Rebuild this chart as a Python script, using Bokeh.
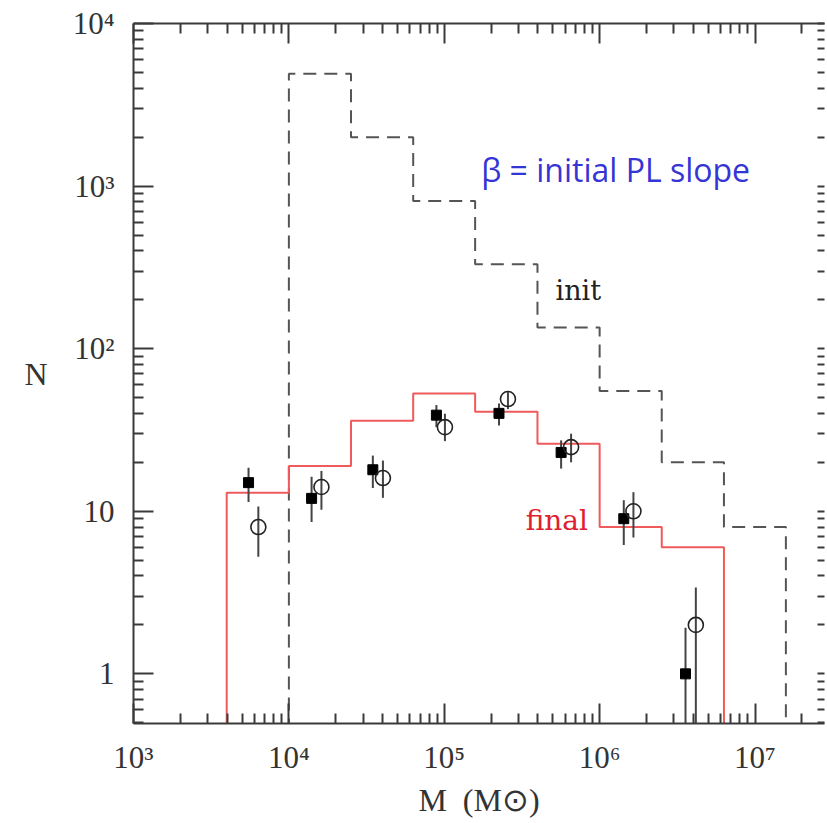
from bokeh.plotting import figure
from bokeh.models import (LogAxis, FixedTicker, Range1d, Label, ColumnDataSource,
                          CustomJSTickFormatter)
from bokeh.embed import file_html
from bokeh.resources import INLINE

# ---------------- data ----------------
# initial (power-law) cluster mass function: bin edges and counts
init_edges = [1.0e4, 2.51e4, 6.31e4, 1.58e5, 3.98e5, 1.0e6, 2.51e6, 6.31e6, 1.58e7]
init_counts = [4900, 2000, 810, 330, 135, 55, 20, 8]

# final (evolved) mass function
final_edges = [3.98e3, 1.0e4, 2.51e4, 6.31e4, 1.58e5, 3.98e5, 1.0e6, 2.51e6, 6.31e6]
final_counts = [13, 19, 36, 53, 41, 26, 8, 6]

# observed sample 1 (filled squares)
sq_mass = [5.5e3, 1.4e4, 3.47e4, 8.9e4, 2.25e5, 5.65e5, 1.43e6, 3.57e6]
sq_n = [15, 12, 18, 39, 40, 23, 9, 1.0]
sq_lo = [11.4, 8.6, 13.9, 32.9, 33.7, 18.3, 6.2, 0.1]
sq_hi = [18.5, 16.3, 22.0, 45.0, 46.0, 27.3, 11.7, 1.92]

# observed sample 2 (open circles)
ci_mass = [6.36e3, 1.62e4, 4.03e4, 1.01e5, 2.57e5, 6.55e5, 1.65e6, 4.16e6]
ci_n = [8.0, 14.1, 16.0, 32.9, 49.0, 24.8, 10.0, 2.0]
ci_lo = [5.25, 10.2, 12.1, 27.0, 42.5, 20.0, 6.9, 0.1]
ci_hi = [10.7, 17.7, 20.5, 39.8, 54.0, 30.0, 13.1, 3.4]

# axis ticks and labels
x_ticks = [1e3, 1e4, 1e5, 1e6, 1e7]
x_tick_labels = ["10³", "10⁴", "10⁵", "10⁶", "10⁷"]
y_ticks = [1, 10, 100, 1000, 10000]
y_tick_labels = ["1", "10", "10²", "10³", "10⁴"]

x_label = "M\u00a0\u00a0(M⊙)"
y_label = "N"
annot_text = "β = initial PL slope"
init_text = "init"
final_text = "final"

# ---------------- helpers ----------------
FLOOR = 0.1  # below the visible range so histogram sides run off the bottom


def outline(edges, counts):
    xs = [edges[0]]
    ys = [FLOOR]
    for i, c in enumerate(counts):
        xs += [edges[i], edges[i + 1]]
        ys += [c, c]
    xs.append(edges[-1])
    ys.append(FLOOR)
    return xs, ys


minor = [m * 10 ** k for k in range(-1, 8) for m in range(2, 10)]
xticker = FixedTicker(ticks=x_ticks, minor_ticks=minor)
yticker = FixedTicker(ticks=y_ticks, minor_ticks=minor)

SERIF = "Liberation Serif"
AX_COLOR = "#3a3a3a"

p = figure(
    width=827, height=823,
    x_axis_type="log", y_axis_type="log",
    x_range=Range1d(1e3, 2.8e7), y_range=Range1d(0.495, 1e4),
    output_backend="svg", toolbar_location=None,
    min_border_left=133, min_border_right=0,
    min_border_top=23, min_border_bottom=100,
)
p.outline_line_color = None
p.xgrid.visible = False
p.ygrid.visible = False
p.background_fill_color = "white"
p.border_fill_color = "white"


def style_axis(ax, tick_in=20, minor_in=10):
    ax.axis_line_color = AX_COLOR
    ax.axis_line_width = 2
    ax.major_tick_line_color = AX_COLOR
    ax.minor_tick_line_color = AX_COLOR
    ax.major_tick_line_width = 2
    ax.minor_tick_line_width = 2
    ax.major_tick_in = tick_in
    ax.major_tick_out = 0
    ax.minor_tick_in = minor_in
    ax.minor_tick_out = 0
    ax.major_label_text_font = SERIF
    ax.major_label_text_font_size = "31px"
    ax.major_label_text_color = "#333333"
    ax.axis_label_text_font = SERIF
    ax.axis_label_text_font_size = "32px"
    ax.axis_label_text_font_style = "normal"
    ax.axis_label_text_color = "#333333"


xa = p.xaxis[0]
xa.ticker = xticker
xa.major_label_overrides = dict(zip(x_ticks, x_tick_labels))
xa.axis_label = x_label
style_axis(xa)
xa.major_label_standoff = 16
xa.axis_label_standoff = 4

ya = p.yaxis[0]
ya.ticker = yticker
ya.major_label_overrides = dict(zip(y_ticks, y_tick_labels))
ya.axis_label = y_label
ya.axis_label_orientation = "horizontal"
style_axis(ya)
ya.major_label_standoff = 19
ya.axis_label_standoff = 22

blank = CustomJSTickFormatter(code="return ' ';")


def hide_labels(ax):
    ax.major_label_text_font_size = "1px"
    ax.major_label_standoff = 0
    ax.axis_label_standoff = 0
    ax.axis_label_text_font_size = "1px"


top = LogAxis(ticker=xticker, formatter=blank)
style_axis(top)
hide_labels(top)
p.add_layout(top, "above")

right = LogAxis(ticker=yticker, formatter=blank)
style_axis(right, tick_in=7, minor_in=7)
right.axis_line_color = None
hide_labels(right)
p.add_layout(right, "right")

# ---------------- histograms ----------------
ix, iy = outline(init_edges, init_counts)
p.line(ix, iy, line_color="#555555", line_width=2, line_dash="13 8")

fx, fy = outline(final_edges, final_counts)
p.line(fx, fy, line_color="#f05a5a", line_width=2)

# ---------------- data points ----------------
sq = ColumnDataSource(dict(x=sq_mass, y=sq_n, lo=sq_lo, hi=sq_hi))
ci = ColumnDataSource(dict(x=ci_mass, y=ci_n, lo=ci_lo, hi=ci_hi))

p.segment(x0="x", y0="lo", x1="x", y1="hi", source=sq, line_color="#444444", line_width=2)
p.segment(x0="x", y0="lo", x1="x", y1="hi", source=ci, line_color="#444444", line_width=2)

p.scatter("x", "y", source=sq, marker="square", size=10,
          fill_color="black", line_color="black")
p.scatter("x", "y", source=ci, marker="circle", size=15,
          fill_color=None, line_color="#222222", line_width=1.6)

# ---------------- annotations ----------------
p.add_layout(Label(x=1.73e5, y=1265, text=annot_text, text_font="Open Sans",
                   text_font_size="32px", text_color="#3535d5",
                   text_baseline="alphabetic"))
p.add_layout(Label(x=5.2e5, y=228, text=init_text, text_font="DejaVu Serif",
                   text_font_size="27px", text_color="#222222",
                   text_baseline="alphabetic"))
p.add_layout(Label(x=3.34e5, y=8.77, text=final_text, text_font="DejaVu Serif",
                   text_font_size="28px", text_color="#e0202e",
                   text_baseline="alphabetic"))

open("out.html", "w").write(file_html(p, INLINE))
